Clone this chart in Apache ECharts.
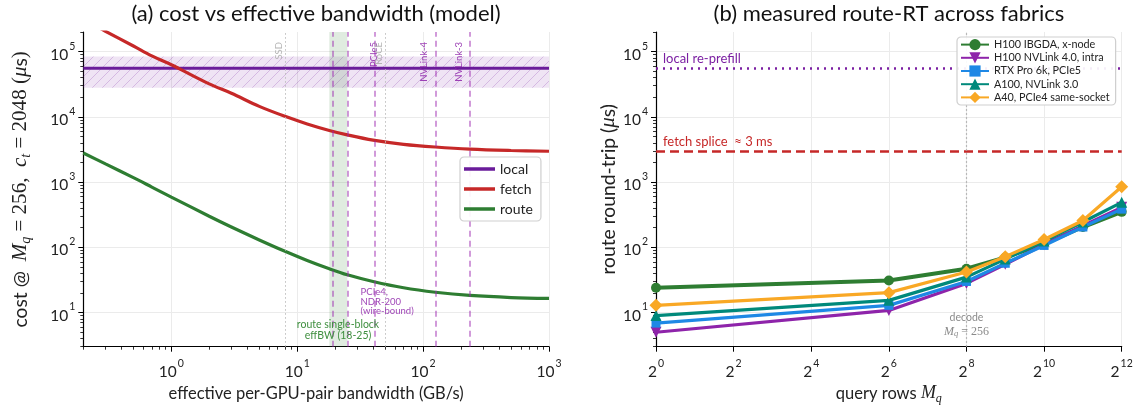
<!DOCTYPE html>
<html><head><meta charset="utf-8">
<script src="https://cdn.jsdelivr.net/npm/echarts@6/dist/echarts.min.js"></script>
<style>html,body{margin:0;padding:0;background:#fff}#c{width:1144px;height:415px}</style>
</head><body><div id="c"></div>
<script>
// ---------- panel (a) data ----------
const bwFetch   = [0.27, 0.3, 0.5, 0.7, 1, 1.14, 2, 3, 5, 8, 12, 18, 25, 40, 70, 125, 235, 500, 1000];
const costFetch = [2.3e5, 2.05e5, 1.22e5, 8.6e4, 6.3e4, 5.55e4, 3.2e4, 2.3e4, 1.45e4, 1.02e4, 7.8e3, 6.2e3, 5.3e3, 4.4e3, 3.8e3, 3.45e3, 3.2e3, 3.05e3, 2.97e3];
const bwRoute   = [0.2, 0.3, 0.5, 0.7, 1, 2, 3, 5, 8, 12, 18, 25, 40, 70, 125, 235, 500, 1000];
const costRoute = [2800, 1900, 1170, 840, 590, 300, 205, 130, 87, 63, 47, 38, 30, 24, 20.5, 18.3, 17, 16.5];
const bwLocal   = [0.2, 1000];
const costLocal = [5.55e4, 5.55e4];
const localBand = [2.8e4, 8.4e4];
const routeBand = [18, 25];
const fabricNames = ['SSD', '', '', 'PCIe5', 'RoCE', 'NVLink-4', 'NVLink-3'];
const fabricBW    = [8, 19, 25, 41, 50, 125, 235];
const fabricKind  = ['gray', 'purple', 'purple', 'purple', 'gray', 'purple', 'purple'];
// ---------- panel (b) data ----------
const queryRows = [1, 64, 256, 512, 1024, 2048, 4096];
const seriesNamesB = ['H100 IBGDA, x-node', 'H100 NVLink 4.0, intra', 'RTX Pro 6k, PCIe5', 'A100, NVLink 3.0', 'A40, PCIe4 same-socket'];
const rtH100IB  = [24, 31, 47, 70, 113, 205, 350];
const rtH100NVL = [5.0, 10.8, 28, 55, 110, 215, 410];
const rtRTX     = [6.9, 12.9, 30, 57, 107, 205, 385];
const rtA100    = [9.0, 15.4, 35, 66, 125, 245, 490];
const rtA40     = [12.9, 20.2, 42, 72, 132, 258, 850];
const localRePrefill = 5.55e4;
const fetchSplice = 3000;
const decodeRows = 256;
// ---------- ticks ----------
const xMajorA = [1, 10, 100, 1000];
const yMajor  = [10, 100, 1000, 10000, 100000];
const xMajorB = [1, 4, 16, 64, 256, 1024, 4096];
function minorsLog10(lo, hi) {
  const out = [];
  for (let k = -1; k <= 5; k++) for (let m = 2; m <= 9; m++) {
    const v = Number((m * Math.pow(10, k)).toPrecision(3));
    if (v >= lo && v <= hi) out.push(v);
  }
  return out;
}
const xMinorA = minorsLog10(0.2, 1000);
const yMinor  = minorsLog10(3, 2e5);

const F = 'Lato, "DejaVu Sans", sans-serif';
const FM = '"Liberation Serif", "DejaVu Serif", serif';
const C = { local: '#6a1b9a', fetch: '#c62828', route: '#2e7d32',
  b: ['#2e7d32', '#8e24aa', '#1e88e5', '#00897b', '#f9a825'] };
const zip = (a, b) => a.map((v, i) => [v, b[i]]);

function hatch() {
  const c = document.createElement('canvas'); c.width = 10; c.height = 10;
  const g = c.getContext('2d');
  g.fillStyle = 'rgba(123,31,162,0.12)'; g.fillRect(0, 0, 10, 10);
  g.strokeStyle = 'rgba(123,31,162,0.22)'; g.lineWidth = 1;
  g.beginPath();
  g.moveTo(0, 10); g.lineTo(10, 0);
  g.moveTo(-5, 5); g.lineTo(5, -5);
  g.moveTo(5, 15); g.lineTo(15, 5);
  g.stroke();
  return c;
}
const supRich = {
  b: { fontFamily: F, fontSize: 15.5, color: '#222', lineHeight: 22, verticalAlign: 'bottom' },
  s: { fontFamily: F, fontSize: 10.5, color: '#222', lineHeight: 12, verticalAlign: 'top', padding: [0, 0, 0, 1] }
};
const pow10Label = v => '{b|10}{s|' + Math.round(Math.log10(v)) + '}';
const pow2Label  = v => '{b|2}{s|' + Math.round(Math.log2(v)) + '}';
function mathRich(k) {
  return {
    t: { fontFamily: F, fontSize: 16.5 * k, color: '#222' },
    m: { fontFamily: FM, fontStyle: 'italic', fontSize: 18 * k, color: '#222', lineHeight: 22 * k },
    sub: { fontFamily: FM, fontStyle: 'italic', fontSize: 12 * k, color: '#222', lineHeight: 14 * k, verticalAlign: 'bottom' },
    e: { fontFamily: FM, fontSize: 18 * k, color: '#222' }
  };
}
const gridLine = { show: true, lineStyle: { color: '#ebebeb', width: 1 } };
const spine = { show: true, onZero: false, lineStyle: { color: '#000', width: 1.2 } };

function majorAxis(o) {
  return Object.assign({
    type: 'log', axisLine: spine,
    axisTick: { show: true, length: 5, customValues: o.ticks, lineStyle: { color: '#000', width: 1 } },
    axisLabel: { customValues: o.ticks, formatter: o.fmt, rich: supRich, margin: o.margin },
    splitLine: gridLine, minorTick: { show: false }
  }, o.extra);
}
function minorAxis(o) {
  return Object.assign({
    type: 'log', axisLine: { show: false },
    axisTick: { show: true, length: 3, customValues: o.ticks, lineStyle: { color: '#000', width: 0.8 } },
    axisLabel: { show: false }, splitLine: { show: false }
  }, o.extra);
}

const fabricMarks = fabricBW.map((bw, i) => {
  const gray = fabricKind[i] === 'gray';
  const name = fabricNames[i];
  return {
    xAxis: bw,
    lineStyle: gray ? { color: '#bdbdbd', width: 1, type: [1.5, 2.5] }
                    : { color: 'rgba(156,39,176,0.62)', width: 1.5, type: [6, 4] },
    label: {
      show: !!name, formatter: name,
      position: name === 'PCIe5' ? 'insideEnd' : 'insideEndTop',
      distance: gray ? [10, 1] : [10, 6],
      color: gray ? '#b5b5b5' : 'rgba(142,36,170,0.85)',
      fontFamily: F, fontSize: 9.5
    }
  };
});

const markerSpec = [
  { symbol: 'circle', size: 10, rot: 0 },
  { symbol: 'triangle', size: 11, rot: 180 },
  { symbol: 'rect', size: 9, rot: 0 },
  { symbol: 'triangle', size: 11, rot: 0 },
  { symbol: 'diamond', size: 13, rot: 0 }
];
const valuesB = [rtH100IB, rtH100NVL, rtRTX, rtA100, rtA40];

const seriesB = valuesB.map((vals, i) => ({
  name: seriesNamesB[i], type: 'line', xAxisIndex: 1, yAxisIndex: 1,
  data: zip(queryRows, vals),
  symbol: markerSpec[i].symbol, symbolSize: markerSpec[i].size, symbolRotate: markerSpec[i].rot,
  lineStyle: { color: C.b[i], width: i === 0 ? 4 : 3.2 },
  itemStyle: { color: C.b[i] }, z: 5 + i
}));
seriesB[0].markLine = {
  silent: true, symbol: ['none', 'none'], animation: false,
  data: [
    { yAxis: localRePrefill, lineStyle: { color: '#7b1fa2', width: 2.5, type: [2, 5] },
      label: { show: true, formatter: 'local re-prefill', position: 'insideStartTop', distance: [7, 3], color: '#7b1fa2', fontFamily: F, fontSize: 13 } },
    { yAxis: fetchSplice, lineStyle: { color: '#c62828', width: 2.5, type: [9, 5] },
      label: { show: true, formatter: 'fetch splice  ≈ 3 ms', position: 'insideStartTop', distance: [7, 3], color: '#c62828', fontFamily: F, fontSize: 13 } },
    { xAxis: decodeRows, lineStyle: { color: '#a8a8a8', width: 1.2, type: [1.5, 2.5] }, label: { show: false } }
  ]
};
seriesB[0].markPoint = {
  silent: true, symbol: 'circle', symbolSize: 1, itemStyle: { color: 'rgba(0,0,0,0)' },
  data: [{ coord: [decodeRows, 6.6],
    label: { show: true, position: 'inside', align: 'center', verticalAlign: 'middle',
      formatter: '{g|decode}\n{m|M}{sub|q}{e| = 256}',
      rich: {
        g: { fontFamily: F, fontSize: 10.5, color: '#8a8a8a', lineHeight: 14, align: 'center' },
        m: { fontFamily: FM, fontStyle: 'italic', fontSize: 12, color: '#8a8a8a', lineHeight: 14 },
        sub: { fontFamily: FM, fontStyle: 'italic', fontSize: 8.5, color: '#8a8a8a', lineHeight: 10, verticalAlign: 'bottom' },
        e: { fontFamily: FM, fontSize: 12, color: '#8a8a8a', lineHeight: 14 }
      } } }]
};

const lineIcon = 'path://M0,0 L30,0 L30,3.4 L0,3.4 Z';
const option = {
  animation: false,
  backgroundColor: '#fff',
  title: [
    { text: '(a) cost vs effective bandwidth (model)', left: 316, top: 3, padding: 0, textAlign: 'center',
      textStyle: { fontFamily: F, fontSize: 22, fontWeight: 'normal', color: '#111' } },
    { text: '(b) measured route-RT across fabrics', left: 889, top: 3, padding: 0, textAlign: 'center',
      textStyle: { fontFamily: F, fontSize: 22, fontWeight: 'normal', color: '#111' } }
  ],
  grid: [
    { left: 83.3, right: 1144 - 549, top: 32, bottom: 415 - 346.7, outerBoundsMode: 'none', containLabel: false },
    { left: 656, right: 1144 - 1121.7, top: 32, bottom: 415 - 346.7, outerBoundsMode: 'none', containLabel: false }
  ],
  legend: [
    { data: [{ name: 'local', icon: lineIcon }, { name: 'fetch', icon: lineIcon }, { name: 'route', icon: lineIcon }],
      left: 460, top: 157, orient: 'vertical', z: 30,
      itemWidth: 31, itemHeight: 3.6, itemGap: 6, itemTextGap: 10,
      textStyle: { fontFamily: F, fontSize: 14, color: '#222' },
      borderColor: '#cfcfcf', borderWidth: 1.2, borderRadius: 4, padding: [5, 8, 5, 4],
      backgroundColor: 'rgba(255,255,255,0.92)' },
    { data: seriesNamesB, left: 957, top: 37, orient: 'vertical', z: 30,
      itemWidth: 28, itemHeight: 14, itemGap: 2, itemTextGap: 7,
      textStyle: { fontFamily: F, fontSize: 10.8, color: '#222' },
      borderColor: '#cfcfcf', borderWidth: 1.2, borderRadius: 4, padding: [2, 6, 2, 3],
      backgroundColor: 'rgba(255,255,255,0.92)' }
  ],
  xAxis: [
    majorAxis({ ticks: xMajorA, fmt: pow10Label, margin: 11, extra: {
      gridIndex: 0, logBase: 10, min: 0.2, max: 1000, position: 'bottom',
      name: 'effective per-GPU-pair bandwidth (GB/s)', nameLocation: 'middle', nameGap: 38,
      nameTextStyle: { fontFamily: F, fontSize: 16.5, color: '#222' } } }),
    majorAxis({ ticks: xMajorB, fmt: pow2Label, margin: 11, extra: {
      gridIndex: 1, logBase: 2, min: 1, max: 4096, position: 'bottom',
      name: '{t|query rows }{m|M}{sub|q}', nameLocation: 'middle', nameGap: 36,
      nameTextStyle: { rich: mathRich(1) } } }),
    minorAxis({ ticks: xMinorA, extra: { gridIndex: 0, logBase: 10, min: 0.2, max: 1000, position: 'bottom' } })
  ],
  yAxis: [
    majorAxis({ ticks: yMajor, fmt: pow10Label, margin: 8, extra: {
      gridIndex: 0, logBase: 10, min: 3, max: 2e5, position: 'left',
      name: '{t|cost @  }{m|M}{sub|q}{e| = 256,  }{m|c}{sub|t}{e| = 2048 (}{m|μ}{t|s}{e|)}',
      nameLocation: 'middle', nameRotate: 90, nameGap: 50,
      nameTextStyle: { rich: mathRich(1.17) } } }),
    majorAxis({ ticks: yMajor, fmt: pow10Label, margin: 8, extra: {
      gridIndex: 1, logBase: 10, min: 3, max: 2e5, position: 'left',
      name: '{t|route round-trip (}{m|μ}{t|s)}', nameLocation: 'middle', nameRotate: 90, nameGap: 34,
      nameTextStyle: { rich: mathRich(1.17) } } }),
    minorAxis({ ticks: yMinor, extra: { gridIndex: 0, logBase: 10, min: 3, max: 2e5, position: 'left' } }),
    minorAxis({ ticks: yMinor, extra: { gridIndex: 1, logBase: 10, min: 3, max: 2e5, position: 'left' } })
  ],
  series: [
    { name: 'local', type: 'line', xAxisIndex: 0, yAxisIndex: 0, data: zip(bwLocal, costLocal),
      symbol: 'none', lineStyle: { color: C.local, width: 3 }, itemStyle: { color: C.local }, z: 4,
      markArea: { silent: true, itemStyle: { color: { image: hatch(), repeat: 'repeat' } },
        data: [[{ yAxis: localBand[0] }, { yAxis: localBand[1] }]] },
      markLine: { silent: true, symbol: ['none', 'none'], animation: false, data: fabricMarks } },
    { name: 'fetch', type: 'line', xAxisIndex: 0, yAxisIndex: 0, data: zip(bwFetch, costFetch),
      symbol: 'none', smooth: 0.35, lineStyle: { color: C.fetch, width: 3.2 }, itemStyle: { color: C.fetch }, z: 4 },
    { name: 'route', type: 'line', xAxisIndex: 0, yAxisIndex: 0, data: zip(bwRoute, costRoute),
      symbol: 'none', smooth: 0.35, lineStyle: { color: C.route, width: 3.2 }, itemStyle: { color: C.route }, z: 4,
      markArea: { silent: true, itemStyle: { color: 'rgba(46,125,50,0.15)' },
        data: [[{ xAxis: routeBand[0] }, { xAxis: routeBand[1] }]] },
      markPoint: { silent: true, symbol: 'circle', symbolSize: 1, itemStyle: { color: 'rgba(0,0,0,0)' },
        data: [
          { coord: [31.6, 14.8], label: { show: true, position: 'right', distance: 0, align: 'left', verticalAlign: 'middle',
              formatter: 'PCIe4,\nNDR-200\n(wire-bound)', color: 'rgba(142,36,170,0.85)', fontFamily: F, fontSize: 9.5, lineHeight: 9.8 } },
          { coord: [21.1, 5.33], label: { show: true, position: 'inside', align: 'center', verticalAlign: 'middle',
              formatter: 'route single-block\neffBW (18-25)', color: '#3f8f3f', fontFamily: F, fontSize: 10.5, lineHeight: 11 } }
        ] } }
  ].concat(seriesB)
};
const chart = echarts.init(document.getElementById('c'), null, { renderer: 'canvas' });
chart.setOption(option);
</script></body></html>
